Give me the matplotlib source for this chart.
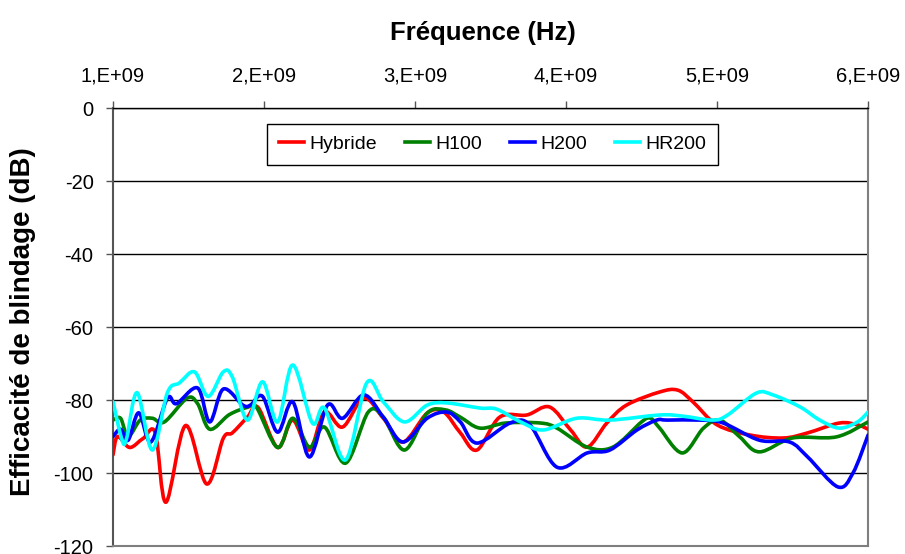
import matplotlib
matplotlib.use("Agg")
import matplotlib.pyplot as plt
from matplotlib.path import Path
from matplotlib.patches import PathPatch
from matplotlib.lines import Line2D
from matplotlib.ticker import FuncFormatter

plt.rcParams['font.family'] = ['Liberation Sans', 'DejaVu Sans']
plt.rcParams['axes.unicode_minus'] = False

# Frequencies (GHz) and shielding effectiveness (dB)
hyb_f = [1.00, 1.03, 1.11, 1.20, 1.28, 1.35, 1.48, 1.62, 1.73, 1.79, 1.89,
         1.96, 2.09, 2.19, 2.30, 2.40, 2.52, 2.66, 2.79, 2.92, 3.08, 3.19,
         3.30, 3.41, 3.56, 3.74, 3.89, 4.03, 4.14, 4.27, 4.40, 4.62, 4.74,
         4.84, 5.00, 5.22, 5.44, 5.60, 5.81, 5.93, 6.00]
hyb_db = [-95, -90, -93, -90.5, -89, -108, -87, -103, -90.5, -89, -84.7,
          -82, -93, -85.5, -93.7, -83.3, -87.4, -79.5, -85, -91.5, -83.6, -83.3,
          -89, -93.7, -84.7, -84.1, -81.9, -88.2, -92.9, -86.3, -81.4, -77.8, -77.3,
          -80.5, -86.8, -89.6, -90.4, -89, -86.3, -86.8, -88]

h100_f = [1.00, 1.05, 1.10, 1.18, 1.26, 1.34, 1.49, 1.56, 1.64, 1.77, 1.89,
          1.95, 2.09, 2.19, 2.30, 2.40, 2.54, 2.69, 2.79, 2.93, 3.08, 3.20,
          3.30, 3.43, 3.60, 3.83, 3.94, 4.14, 4.31, 4.50, 4.56, 4.62, 4.77,
          4.91, 5.02, 5.15, 5.28, 5.50, 5.79, 6.00]
h100_db = [-85.5, -85, -90, -85.5, -85, -86, -79.5, -81, -88, -84, -82,
           -82, -93, -85, -92.9, -87.4, -97.3, -83.3, -84.7, -93.7, -83.6, -82.7,
           -84.7, -87.7, -86.3, -86.3, -87.7, -92.9, -92.9, -86, -85, -87.7, -94.5,
           -87.7, -85.5, -90.1, -94.2, -90.4, -90.1, -86]

h200_f = [1.00, 1.05, 1.10, 1.17, 1.25, 1.36, 1.42, 1.56, 1.64, 1.73, 1.86,
          1.91, 1.99, 2.09, 2.19, 2.30, 2.42, 2.52, 2.66, 2.79, 2.92, 3.08,
          3.21, 3.30, 3.41, 3.63, 3.76, 3.94, 4.14, 4.29, 4.47, 4.60, 4.67,
          4.89, 5.04, 5.28, 5.48, 5.60, 5.80, 5.90, 6.00]
h200_db = [-90, -88, -91, -83.5, -91.5, -79.5, -81, -76.7, -86, -77, -81.4,
           -81.4, -79, -88.8, -80.5, -95.6, -81.4, -85, -78.6, -84.7, -91.5, -85,
           -83.3, -86, -91.8, -86.3, -86.8, -98.4, -94.5, -93.7, -88.2, -85.5, -85.5,
           -85.5, -86.3, -91, -91.5, -95.6, -103.8, -100, -89.6]

hr200_f = [1.00, 1.06, 1.09, 1.16, 1.26, 1.36, 1.44, 1.54, 1.63, 1.73, 1.79,
           1.89, 1.99, 2.09, 2.19, 2.32, 2.40, 2.54, 2.68, 2.79, 2.93, 3.08,
           3.21, 3.43, 3.54, 3.70, 3.85, 4.07, 4.29, 4.62, 4.77, 4.97, 5.07,
           5.26, 5.37, 5.55, 5.68, 5.81, 5.93, 6.00]
hr200_db = [-80.5, -91, -90.5, -78, -93.7, -78, -75.3, -72.3, -79, -72.3, -73.7,
            -85.5, -75, -86, -70.4, -86.3, -82.2, -96.4, -75.3, -80.5, -86, -81.4,
            -80.8, -82.2, -82.5, -86, -88.2, -85, -85.5, -84.1, -84.4, -85.5, -84.1,
            -78.1, -78.6, -81.9, -85.5, -87.7, -86, -83.3]

series = [
    ("Hybride", hyb_f, hyb_db, "#ff0000"),
    ("H100", h100_f, h100_db, "#008000"),
    ("H200", h200_f, h200_db, "#0000ff"),
    ("HR200", hr200_f, hr200_db, "#00ffff"),
]


def smooth_path(xs, ys):
    # Excel-like smoothed line: Catmull-Rom segments as cubic Bezier curves
    pts = list(zip(xs, ys))
    verts = [pts[0]]
    codes = [Path.MOVETO]
    n = len(pts)
    for i in range(n - 1):
        p0 = pts[i - 1] if i > 0 else pts[i]
        p1 = pts[i]
        p2 = pts[i + 1]
        p3 = pts[i + 2] if i + 2 < n else pts[i + 1]
        c1 = (p1[0] + (p2[0] - p0[0]) / 6, p1[1] + (p2[1] - p0[1]) / 6)
        c2 = (p2[0] - (p3[0] - p1[0]) / 6, p2[1] - (p3[1] - p1[1]) / 6)
        verts += [c1, c2, p2]
        codes += [Path.CURVE4] * 3
    return Path(verts, codes)


fig = plt.figure(figsize=(9.05, 5.54), dpi=100)
ax = fig.add_axes([0.1249, 0.0144, 0.8343, 0.7906])

handles = []
for name, f, db, color in series:
    xs = [v * 1e9 for v in f]
    patch = PathPatch(smooth_path(xs, db), facecolor='none', edgecolor=color,
                      lw=2.6, capstyle='round', joinstyle='round', zorder=3)
    ax.add_patch(patch)
    handles.append(Line2D([], [], color=color, lw=2.6, label=name))

ax.set_xlim(1e9, 6e9)
ax.set_ylim(-120, 0)
ax.set_xticks([1e9, 2e9, 3e9, 4e9, 5e9, 6e9])
ax.set_yticks([0, -20, -40, -60, -80, -100, -120])
ax.xaxis.set_major_formatter(FuncFormatter(lambda v, p: "%d,E+09" % round(v / 1e9)))
ax.xaxis.tick_top()
ax.tick_params(axis='both', direction='out', length=5, width=1, color='#555555',
               labelsize=14.5)
ax.tick_params(axis='x', pad=11)
ax.tick_params(axis='y', pad=9)
ax.grid(axis='y', color='black', lw=1)
ax.set_axisbelow(True)

for side in ['left', 'right', 'bottom']:
    ax.spines[side].set_color('#7f7f7f')
    ax.spines[side].set_linewidth(1.5)
ax.spines['left'].set_color('#555555')
ax.spines['top'].set_color('black')
ax.spines['top'].set_linewidth(1)

fig.text(0.534, 0.9404, "Fréquence (Hz)", ha='center', va='center',
         fontsize=18.5, fontweight='bold')
fig.text(0.0254, 0.4188, "Efficacité de blindage (dB)", ha='center', va='center',
         rotation=90, fontsize=20, fontweight='bold')

leg = ax.legend(handles=handles, loc='upper left', bbox_to_anchor=(0.204, 0.9635),
                ncol=4, fontsize=14, frameon=True, fancybox=False, framealpha=1,
                edgecolor='black', borderaxespad=0, handlelength=1.3,
                handletextpad=0.26, columnspacing=1.44, borderpad=0.6)
leg.get_frame().set_linewidth(1)

fig.savefig("out.png", dpi=100)
